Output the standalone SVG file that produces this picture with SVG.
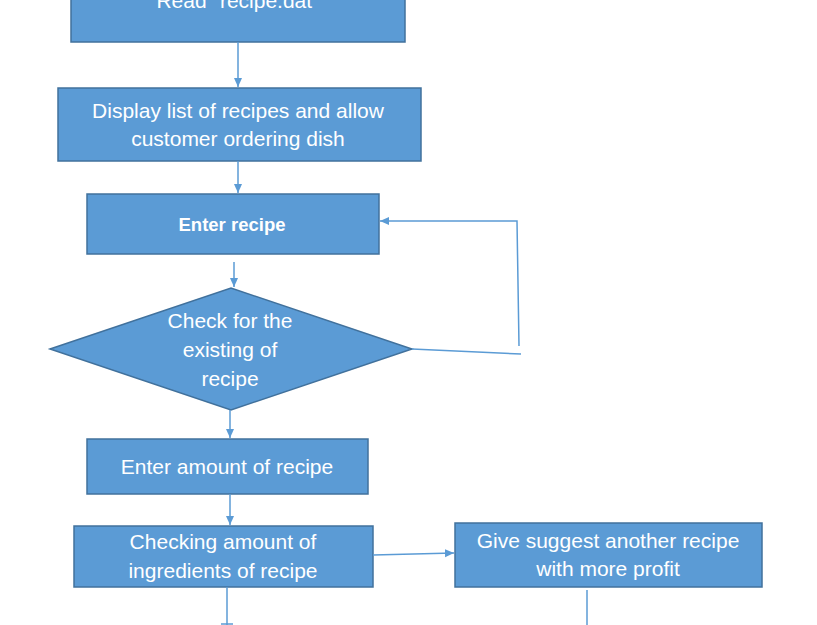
<svg xmlns="http://www.w3.org/2000/svg" width="817" height="625" viewBox="0 0 817 625">
<style>
.box{fill:#5B9BD5;stroke:#41719C;stroke-width:1.5}
.t{fill:#fff;font-family:"Liberation Sans",Arial,sans-serif;font-size:21px;text-anchor:middle;dominant-baseline:central}
.b{font-size:18.5px;font-weight:bold}
.c{fill:none;stroke:#5B9BD5;stroke-width:1.5}
</style>
<defs>
<marker id="a" markerWidth="10" markerHeight="10" refX="9" refY="5" orient="auto" markerUnits="userSpaceOnUse">
<path d="M0,1 L9,5 L0,9 z" fill="#5B9BD5"/>
</marker>
</defs>
<rect width="817" height="625" fill="#fff"/>
<g id="n1"><rect class="box" x="71" y="-30" width="334" height="72"/><text class="t" x="238" y="0">Read "recipe.dat"</text></g>
<g id="n2"><rect class="box" x="58" y="88" width="363" height="73"/><text class="t" x="238" y="110">Display list of recipes and allow</text><text class="t" x="238" y="138">customer ordering dish</text></g>
<g id="n3"><rect class="box" x="87" y="194" width="292" height="60"/><text class="t b" x="232" y="224">Enter recipe</text></g>
<g id="n4"><polygon class="box" points="50,349 231,288 412,349 231,410"/><text class="t" x="230" y="320">Check for the</text><text class="t" x="230" y="349">existing of</text><text class="t" x="230" y="378">recipe</text></g>
<g id="n5"><rect class="box" x="87" y="439" width="281" height="55"/><text class="t" x="227" y="466">Enter amount of recipe</text></g>
<g id="n6"><rect class="box" x="74" y="526" width="299" height="61"/><text class="t" x="223" y="541">Checking amount of</text><text class="t" x="223" y="570">ingredients of recipe</text></g>
<g id="n7"><rect class="box" x="455" y="523" width="307" height="64"/><text class="t" x="608" y="540">Give suggest another recipe</text><text class="t" x="608" y="568">with more profit</text></g>
<g id="connectors">
<line class="c" x1="238" y1="42" x2="238" y2="87" marker-end="url(#a)"/>
<line class="c" x1="238" y1="161" x2="238" y2="193" marker-end="url(#a)"/>
<line class="c" x1="234" y1="262" x2="234" y2="287" marker-end="url(#a)"/>
<polyline class="c" points="412,349 521,354"/>
<polyline class="c" points="519,346 517,221 380,221" marker-end="url(#a)"/>
<line class="c" x1="230" y1="410" x2="230" y2="438" marker-end="url(#a)"/>
<line class="c" x1="230" y1="494" x2="230" y2="525" marker-end="url(#a)"/>
<line class="c" x1="373" y1="555" x2="454" y2="553" marker-end="url(#a)"/>
<line class="c" x1="227" y1="587" x2="227" y2="625"/>
<line class="c" x1="221" y1="624" x2="233" y2="624"/>
<line class="c" x1="587" y1="590" x2="587" y2="625"/>
</g>
</svg>
